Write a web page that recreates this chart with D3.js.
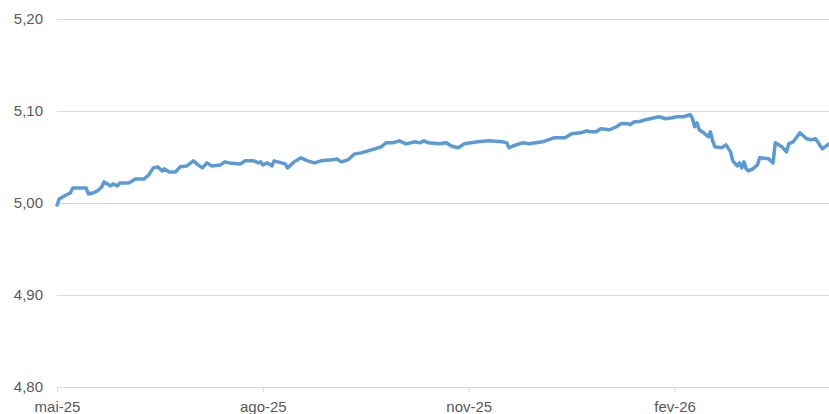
<!DOCTYPE html>
<html>
<head>
<meta charset="utf-8">
<script src="https://cdn.jsdelivr.net/npm/d3@7"></script>
<style>
  body { margin: 0; background: #fff; }
  text { font-family: "Liberation Sans", Arial, sans-serif; }
</style>
</head>
<body>
<div id="chart"></div>
<script>
// dates and values
const dates = [
  "2025-05-01","2025-05-02","2025-05-05","2025-05-07","2025-05-08","2025-05-14","2025-05-15","2025-05-17",
  "2025-05-19","2025-05-21","2025-05-22","2025-05-25","2025-05-26","2025-05-28","2025-05-29","2025-06-02",
  "2025-06-05","2025-06-09","2025-06-11","2025-06-13","2025-06-15","2025-06-17","2025-06-18","2025-06-20",
  "2025-06-23","2025-06-25","2025-06-28","2025-07-01","2025-07-03","2025-07-05","2025-07-07","2025-07-09",
  "2025-07-13","2025-07-15","2025-07-17","2025-07-22","2025-07-24","2025-07-28","2025-07-30","2025-07-31",
  "2025-08-01","2025-08-03","2025-08-05","2025-08-06","2025-08-11","2025-08-12","2025-08-15","2025-08-18",
  "2025-08-21","2025-08-24","2025-08-27","2025-09-01","2025-09-03","2025-09-05","2025-09-08","2025-09-11",
  "2025-09-14","2025-09-17","2025-09-20","2025-09-23","2025-09-25","2025-09-28","2025-10-01","2025-10-04",
  "2025-10-08","2025-10-10","2025-10-12","2025-10-14","2025-10-19","2025-10-22","2025-10-24","2025-10-27",
  "2025-10-28","2025-10-30","2025-11-05","2025-11-10","2025-11-16","2025-11-18","2025-11-19","2025-11-21",
  "2025-11-25","2025-11-28","2025-12-04","2025-12-09","2025-12-14","2025-12-17","2025-12-21","2025-12-24",
  "2025-12-25","2025-12-28","2025-12-30","2026-01-03","2026-01-06","2026-01-08","2026-01-11","2026-01-12",
  "2026-01-14","2026-01-16","2026-01-19","2026-01-23","2026-01-25","2026-01-28","2026-01-31","2026-02-02",
  "2026-02-05","2026-02-08","2026-02-09","2026-02-10","2026-02-11","2026-02-12","2026-02-14","2026-02-16",
  "2026-02-17","2026-02-18","2026-02-19","2026-02-22","2026-02-24","2026-02-26","2026-02-27","2026-03-01",
  "2026-03-02","2026-03-03","2026-03-04","2026-03-05","2026-03-06","2026-03-08","2026-03-10","2026-03-11",
  "2026-03-15","2026-03-17","2026-03-18","2026-03-21","2026-03-23","2026-03-24","2026-03-26","2026-03-29",
  "2026-04-01","2026-04-03","2026-04-05","2026-04-08","2026-04-11"
]
const values = [
  4.9978,5.0044,5.0087,5.0109,5.0164,5.0164,5.0098,5.0109,
  5.0131,5.0174,5.0229,5.0185,5.0207,5.0185,5.0218,5.0218,
  5.0262,5.0262,5.0305,5.0382,5.0393,5.0349,5.0371,5.0338,
  5.0338,5.0393,5.0403,5.0458,5.0414,5.0382,5.0436,5.0403,
  5.0414,5.0447,5.0436,5.0425,5.0458,5.0458,5.0436,5.0447,
  5.0414,5.0436,5.0403,5.0458,5.0425,5.0382,5.0447,5.0491,
  5.0458,5.0436,5.0458,5.0469,5.0480,5.0447,5.0469,5.0534,
  5.0545,5.0567,5.0589,5.0611,5.0654,5.0654,5.0676,5.0643,
  5.0665,5.0654,5.0676,5.0654,5.0643,5.0654,5.0622,5.0600,
  5.0611,5.0643,5.0665,5.0676,5.0665,5.0654,5.0600,5.0622,
  5.0654,5.0643,5.0665,5.0709,5.0709,5.0752,5.0763,5.0785,
  5.0774,5.0774,5.0807,5.0796,5.0829,5.0862,5.0862,5.0851,
  5.0883,5.0883,5.0905,5.0927,5.0938,5.0916,5.0927,5.0938,
  5.0938,5.0960,5.0916,5.0829,5.0872,5.0796,5.0763,5.0720,
  5.0774,5.0676,5.0611,5.0600,5.0632,5.0556,5.0458,5.0403,
  5.0436,5.0382,5.0447,5.0371,5.0349,5.0371,5.0414,5.0491,
  5.0480,5.0436,5.0654,5.0611,5.0556,5.0643,5.0665,5.0763,
  5.0698,5.0687,5.0698,5.0589,5.0643
]
const yTicks = [4.80, 4.90, 5.00, 5.10, 5.20]
const xTickDates = ["2025-05-01","2025-08-01","2025-11-01","2026-02-01"]
const xTickLabels = ["mai-25","ago-25","nov-25","fev-26"]

const width = 829, height = 414
const margin = { top: 19, right: 0, bottom: 27, left: 57 }
const parse = d3.utcParse("%Y-%m-%d")
const data = dates.map((d, i) => ({ date: parse(d), value: values[i] }))

const svg = d3.select("#chart").append("svg")
  .attr("width", width)
  .attr("height", height)

const x = d3.scaleUtc()
  .domain([parse(dates[0]), parse(dates[dates.length - 1])])
  .range([margin.left, width - margin.right])
const y = d3.scaleLinear()
  .domain([4.80, 5.20])
  .range([height - margin.bottom, margin.top])

const fmt = d3.formatLocale({ decimal: ",", thousands: ".", grouping: [3], currency: ["", ""] }).format(".2f")

// gridlines + y labels
const yAxis = svg.append("g")
  .attr("transform", `translate(${margin.left},0)`)
  .call(d3.axisLeft(y).tickValues(yTicks).tickFormat(fmt)
    .tickSize(-(width - margin.left - margin.right)).tickPadding(14))
yAxis.select(".domain").remove()
yAxis.selectAll(".tick line").attr("stroke", "#d9d9d9").attr("stroke-width", 1)
yAxis.selectAll(".tick text").attr("fill", "#595959").style("font-size", "15px")

// bottom axis
const xAxis = svg.append("g")
  .attr("transform", `translate(0,${y(4.80)})`)
  .call(d3.axisBottom(x).tickValues(xTickDates.map(parse))
    .tickFormat((d, i) => xTickLabels[i]).tickSize(5).tickSizeOuter(0).tickPadding(9))
xAxis.select(".domain").attr("stroke", "#d9d9d9")
xAxis.selectAll(".tick line").attr("stroke", "#d9d9d9")
xAxis.selectAll(".tick text").attr("fill", "#595959").style("font-size", "15px")

// series
const line = d3.line()
  .x(d => x(d.date))
  .y(d => y(d.value))

svg.append("path")
  .datum(data)
  .attr("fill", "none")
  .attr("stroke", "#5b9bd5")
  .attr("stroke-width", 3.5)
  .attr("stroke-linejoin", "round")
  .attr("stroke-linecap", "round")
  .attr("d", line)
</script>
</body>
</html>
